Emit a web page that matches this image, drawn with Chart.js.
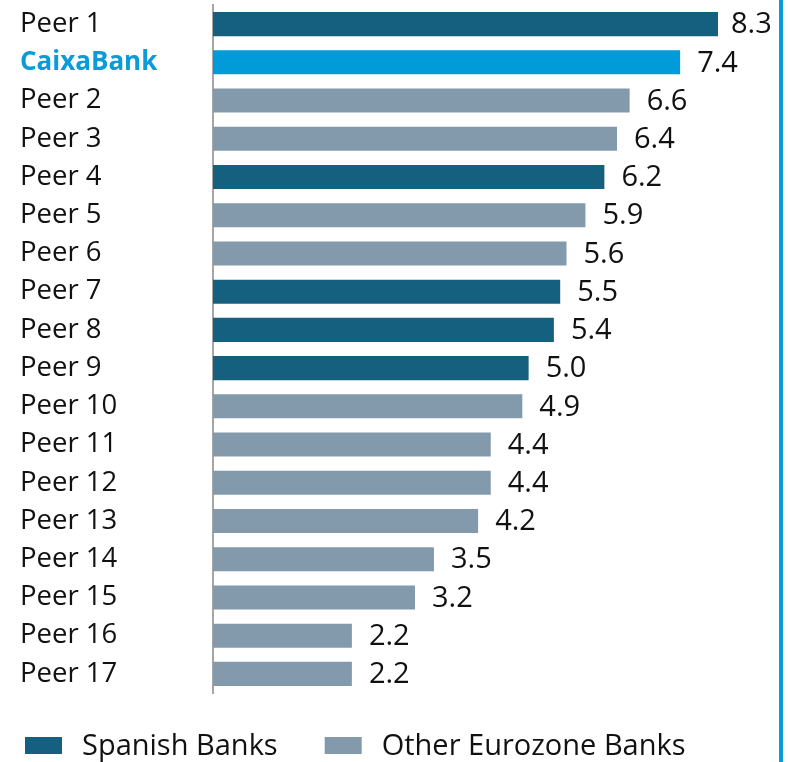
<!DOCTYPE html>
<html>
<head>
<meta charset="utf-8">
<script src="https://cdn.jsdelivr.net/npm/chart.js@4"></script>
<style>
  html, body { margin: 0; padding: 0; background: #ffffff; }
  #wrap { position: relative; width: 790px; height: 762px; }
  #edge { position: absolute; left: 779px; top: 0; width: 4px; height: 762px; background: #0A9CD9; }
</style>
</head>
<body>
<div id="wrap">
  <canvas id="c" width="790" height="762"></canvas>
  <div id="edge"></div>
</div>
<script>
// ---- data ----
const categories = ["Peer 1", "CaixaBank", "Peer 2", "Peer 3", "Peer 4", "Peer 5", "Peer 6", "Peer 7", "Peer 8",
  "Peer 9", "Peer 10", "Peer 11", "Peer 12", "Peer 13", "Peer 14", "Peer 15", "Peer 16", "Peer 17"];
const values = [8.3, 7.4, 6.6, 6.4, 6.2, 5.9, 5.6, 5.5, 5.4, 5.0, 4.9, 4.4, 4.4, 4.2, 3.5, 3.2, 2.2, 2.2];
const groups = ["spanish", "caixa", "other", "other", "spanish", "other", "other", "spanish", "spanish",
  "spanish", "other", "other", "other", "other", "other", "other", "other", "other"];
const seriesNames = { spanish: "Spanish Banks", other: "Other Eurozone Banks", caixa: "CaixaBank" };
const xMax = 8;

const colors = { spanish: "#15607F", other: "#8399AC", caixa: "#009BD8" };
const seriesOrder = ["spanish", "other", "caixa"];

const datasets = seriesOrder.map(g => ({
  label: seriesNames[g],
  key: g,
  data: values.map((v, i) => groups[i] === g ? v : null),
  backgroundColor: colors[g],
  borderWidth: 0,
  grouped: false,
  barPercentage: 0.63,
  categoryPercentage: 1.0,
  clip: 0,
  inLegend: g !== "caixa"
}));

const labelFont = "Open Sans";

const valueLabels = {
  id: "valueLabels",
  afterDatasetsDraw(chart) {
    const ctx = chart.ctx;
    const area = chart.chartArea;
    ctx.save();
    ctx.font = "29px '" + labelFont + "'";
    ctx.fillStyle = "#111111";
    ctx.textAlign = "left";
    ctx.textBaseline = "middle";
    chart.data.datasets.forEach((ds, di) => {
      const meta = chart.getDatasetMeta(di);
      meta.data.forEach((el, i) => {
        const v = ds.data[i];
        if (v === null || v === undefined) return;
        const clipped = el.x > area.right;
        const x = Math.min(el.x, area.right) + (clipped ? 13 : 17);
        ctx.fillText(v.toFixed(1), x, el.y + 1);
      });
    });
    ctx.restore();
  }
};

const bottomLegend = {
  id: "bottomLegend",
  afterDraw(chart) {
    const ctx = chart.ctx;
    ctx.save();
    ctx.font = "29px '" + labelFont + "'";
    ctx.textAlign = "left";
    ctx.textBaseline = "middle";
    let x = 25;
    const top = 737, bw = 37, bh = 17;
    chart.data.datasets.filter(d => d.inLegend).forEach(ds => {
      ctx.fillStyle = ds.backgroundColor;
      ctx.fillRect(x, top, bw, bh);
      ctx.fillStyle = "#111111";
      const tx = x + bw + 20;
      ctx.fillText(ds.label, tx, top + bh / 2 + 1);
      x = tx + ctx.measureText(ds.label).width + 47;
    });
    ctx.restore();
  }
};

new Chart(document.getElementById("c"), {
  type: "bar",
  data: { labels: categories, datasets: datasets },
  options: {
    indexAxis: "y",
    responsive: false,
    animation: false,
    events: [],
    layout: { padding: { left: 20, right: 72, top: 5, bottom: 69 } },
    plugins: { legend: { display: false }, tooltip: { enabled: false } },
    scales: {
      x: { type: "linear", min: 0, max: xMax, display: false },
      y: {
        type: "category",
        grid: { display: false, drawTicks: false },
        border: { display: true, color: "#A6A6A6", width: 2 },
        ticks: {
          crossAlign: "far",
          autoSkip: false,
          padding: 0,
          color: (c) => groups[c.index] === "caixa" ? "#0A9BD8" : "#111111",
          font: (c) => groups[c.index] === "caixa"
            ? { family: labelFont, size: 26, weight: "bold" }
            : { family: labelFont, size: 27.5, weight: "normal" }
        },
        afterFit(scale) { scale.width = 193; scale.paddingTop = 0; scale.paddingBottom = 0; }
      }
    }
  },
  plugins: [valueLabels, bottomLegend]
});
</script>
</body>
</html>
